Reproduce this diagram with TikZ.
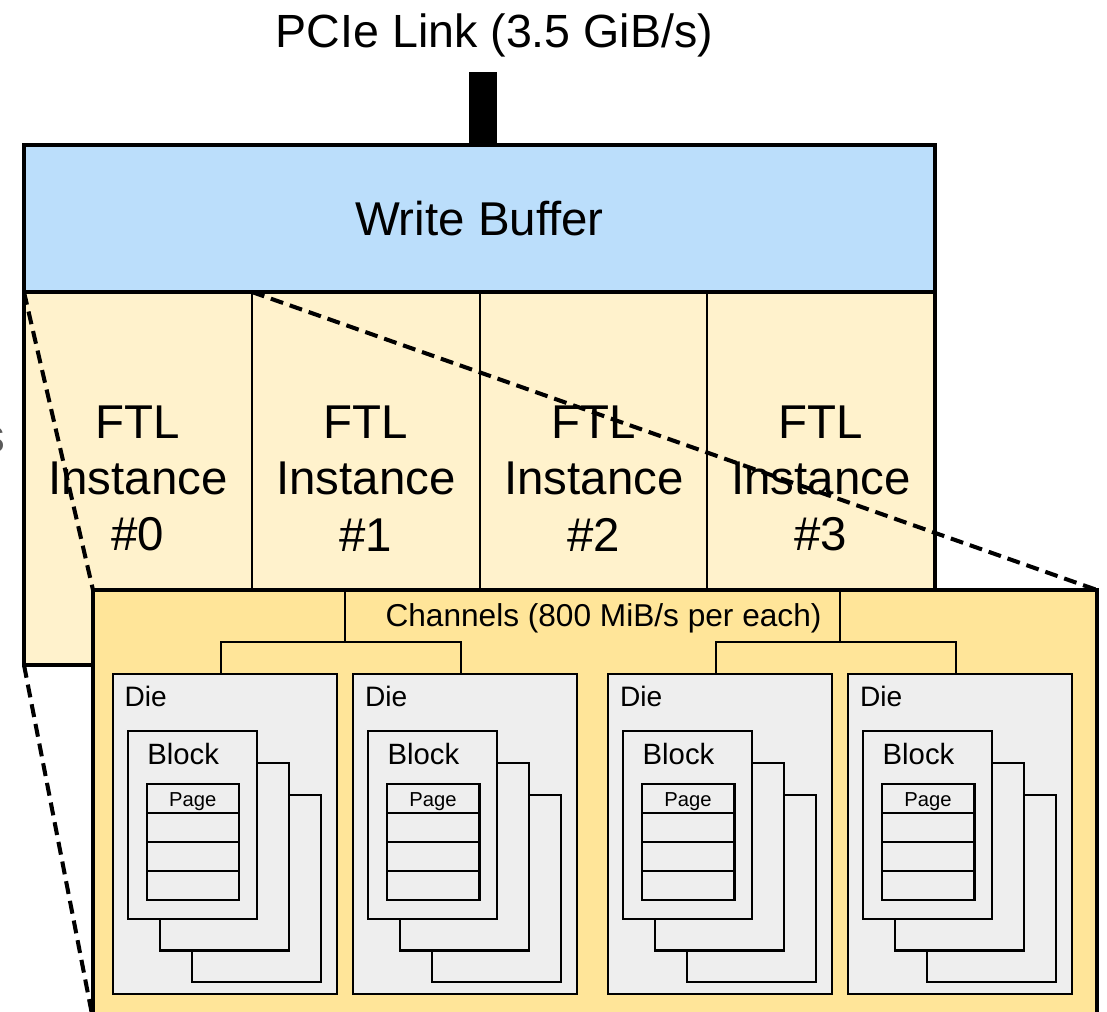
\documentclass[tikz,border=0pt]{standalone}
\usepackage{fontspec}
\setmainfont{Liberation Sans}
\definecolor{wbblue}{RGB}{187,222,251}
\definecolor{ftlfill}{RGB}{255,242,204}
\definecolor{chanfill}{RGB}{255,229,153}
\definecolor{diefill}{RGB}{238,238,238}
\definecolor{cutgrey}{RGB}{90,90,90}
\newcommand\ssddie[2]{%
\begin{scope}[shift={(#2,674)}]
\node[diebox, anchor=north west] (#1) at (0,0) {};
\node[dielbl, anchor=base west] (#1-lbl) at (12,32.4) {Die};
\node[blockbox, anchor=north west] (#1-b3) at (79,120.7) {};
\node[blockbox, anchor=north west] (#1-b2) at (47.3,89) {};
\node[blockbox, anchor=north west] (#1-b1) at (15,57.4) {};
\node[blklbl, anchor=base west] (#1-blbl) at (34.6,90) {Block};
\foreach \i/\yy in {1/110,2/139,3/168,4/197}{\node[pagerow, anchor=north west] (#1-p\i) at (34,\yy) {};}
\node[pagelbl, anchor=base] (#1-plbl) at (80,132.4) {Page};
\end{scope}}
\begin{document}
\begin{tikzpicture}[x=0.02cm,y=-0.02cm,
  thinline/.style={line width=1.2pt},
  thickline/.style={line width=2.3pt},
  zoomline/.style={line width=2.3pt, dash pattern=on 7.4pt off 4pt},
  plainbox/.style={inner sep=0pt, outer sep=0pt},
  wbbox/.style={plainbox, draw, thickline, fill=wbblue, minimum width=18.22cm, minimum height=2.94cm, font=\fontsize{27}{32}\selectfont},
  ftlcol/.style={plainbox, draw, thinline, fill=ftlfill, minimum width=4.56cm, minimum height=7.46cm, align=center, font=\fontsize{27}{32}\selectfont},
  chanbox/.style={plainbox, draw, thickline, fill=chanfill, minimum width=20.08cm, minimum height=9.4cm},
  diebox/.style={plainbox, draw, thinline, fill=diefill, minimum width=4.48cm, minimum height=6.4cm},
  blockbox/.style={plainbox, draw, thinline, fill=diefill, minimum width=2.58cm, minimum height=3.75cm},
  pagerow/.style={plainbox, draw, thinline, fill=diefill, minimum width=1.85cm, minimum height=0.58cm},
  dielbl/.style={plainbox, font=\fontsize{16}{19}\selectfont},
  blklbl/.style={plainbox, font=\fontsize{16.7}{20}\selectfont},
  pagelbl/.style={plainbox, font=\fontsize{11.5}{14}\selectfont},
  chanlbl/.style={plainbox, font=\fontsize{18}{22}\selectfont},
  titlelbl/.style={plainbox, font=\fontsize{26.5}{32}\selectfont},
]
\useasboundingbox (0,0) rectangle (1107,1012);
\clip (0,0) rectangle (1107,1012);

% title and PCIe link bar
\node[titlelbl, anchor=base] (title) at (494.5,47) {PCIe Link (3.5 GiB/s)};
\node[plainbox, fill=black, anchor=north west, minimum width=0.56cm, minimum height=1.46cm] (bar) at (469,72) {};

% cut-off label at left edge
\node[plainbox, anchor=base east, text=cutgrey, font=\fontsize{27}{32}\selectfont] (cut) at (5,452) {s};

% write buffer and FTL instances
\node[wbbox, anchor=north west] (wb) at (24,145) {Write Buffer};
\node[ftlcol, anchor=north west] (ftl0) at (24,292) {FTL\\Instance\\\#0};
\node[ftlcol, anchor=north west] (ftl1) at (252,292) {FTL\\Instance\\\#1};
\node[ftlcol, anchor=north west] (ftl2) at (480,292) {FTL\\Instance\\\#2};
\node[ftlcol, anchor=north west] (ftl3) at (707,292) {FTL\\Instance\\\#3};
\draw[thickline] (wb.north west) rectangle (ftl3.south east);
\draw[thickline] (wb.south west) -- (wb.south east);

% zoom lines
\coordinate (zb) at (97,1040);
\draw[zoomline] (ftl0.north west) -- (93,590) coordinate (chNW);
\draw[zoomline] (ftl0.north east) -- (1097,590) coordinate (chNE);
\draw[zoomline] (ftl0.south west) -- (zb);

% channels box
\node[chanbox, anchor=north west] (chan) at (93,590) {};
\node[chanlbl, anchor=base] (chtext) at (603.5,626.7) {Channels (800 MiB/s per each)};
\coordinate (chL) at (345,590);
\coordinate (chR) at (840,590);
\coordinate (jL) at (345,641.7);
\coordinate (jR) at (840,641.7);

% dies
\ssddie{d1}{112.7}
\ssddie{d2}{353}
\ssddie{d3}{608}
\ssddie{d4}{848}

% channel trees
\draw[thinline] (chL) -- (jL);
\draw[thinline] (chR) -- (jR);
\draw[thinline] ([xshift=-0.08cm]d1.north) |- (jL) -| ([xshift=-0.08cm]d2.north);
\draw[thinline] ([xshift=-0.08cm]d3.north) |- (jR) -| ([xshift=-0.08cm]d4.north);
\end{tikzpicture}
\end{document}
